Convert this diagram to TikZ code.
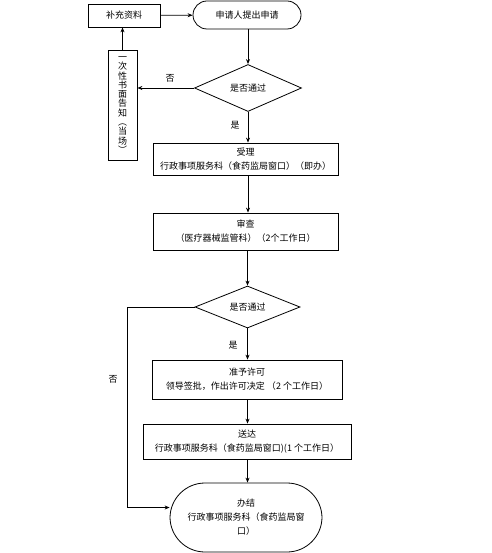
\documentclass[tikz,border=0pt]{standalone}
\usepackage{fontspec}
\setmainfont{Noto Sans CJK SC}
\usetikzlibrary{shapes.geometric,arrows.meta}
\begin{document}
\begin{tikzpicture}[x=1pt,y=-1pt,
  every node/.style={font=\fontsize{9pt}{14pt}\selectfont, inner sep=0pt, align=center},
  box/.style={draw, line width=0.8pt, rectangle},
  stadium/.style={draw, line width=0.8pt, rectangle, rounded corners=#1},
  decision/.style={draw, line width=0.8pt, diamond, shape aspect=2},
  flow/.style={line width=0.8pt, -{Stealth[length=5pt,width=4pt]}},
  lbl/.style={font=\fontsize{9pt}{9pt}\selectfont}]
\useasboundingbox (0,0) rectangle (491,553);
\node[box, minimum width=72pt, minimum height=23pt] (buchong) at (124,15.5) {补充资料};
\node[stadium=14pt, minimum width=108pt, minimum height=28pt] (shenqing) at (247,15) {申请人提出申请};
\node[decision, minimum width=107pt, minimum height=47pt] (d1) at (248,88) {是否通过};
\node[box, minimum width=29pt, minimum height=110pt, font=\fontsize{9pt}{9.3pt}\selectfont] (gaozhi) at (122.5,105)
  {一\\次\\性\\书\\面\\告\\知\\︵\\当\\场\\︶};
\node[box, minimum width=185pt, minimum height=32pt] (shouli) at (245.5,159) {受理\\行政事项服务科（食药监局窗口）（即办）};
\node[box, minimum width=185pt, minimum height=37pt] (shencha) at (245.5,231.5) {审查\\（医疗器械监管科）（2个工作日）};
\node[decision, minimum width=105pt, minimum height=42pt] (d2) at (247.5,307) {是否通过};
\node[box, minimum width=190pt, minimum height=39pt] (zhunyu) at (247,379.5) {准予许可\\领导签批，作出许可决定 （2 个工作日）};
\node[box, minimum width=208pt, minimum height=35pt] (songda) at (247,441.5) {送达\\行政事项服务科（食药监局窗口)(1 个工作日）};
\node[stadium=35pt, minimum width=152pt, minimum height=69pt] (banjie) at (246,517.5) {办结\\行政事项服务科（食药监局窗\\口）};

\draw[flow] (buchong) -- (shenqing);
\draw[flow] (shenqing.south -| d1.north) -- (d1.north);
\draw[flow] (d1.west) -- (gaozhi.east |- d1.west);
\draw[flow] (gaozhi.north) -- (buchong.south -| gaozhi.north);
\draw[flow] (d1.south) -- (shouli.north -| d1.south);
\draw[flow] (shouli.south -| d1.south) -- (shencha.north -| d1.south);
\draw[flow] (shencha.south -| d2.north) -- (d2.north);
\draw[flow] (d2.south) -- (zhunyu.north -| d2.south);
\draw[flow] (zhunyu.south -| d2.south) -- (songda.north -| d2.south);
\draw[flow] (songda.south -| d2.south) -- (banjie.north -| d2.south);
\coordinate (corner) at (127,307);
\draw[flow] (d2.west) -- (corner) |- ([yshift=10pt]banjie.west);

\node[lbl] (no1) at (170,78) {否};
\node[lbl] (yes1) at (235,125) {是};
\node[lbl] (yes2) at (233,345) {是};
\node[lbl] (no2) at (113,379) {否};
\end{tikzpicture}
\end{document}
